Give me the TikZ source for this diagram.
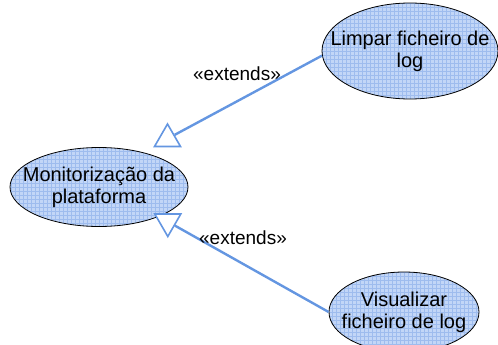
\documentclass[tikz,border=0pt]{standalone}
\usepackage{fontspec}
\setmainfont{Liberation Sans}
\usetikzlibrary{shapes.geometric}
\definecolor{ucfill}{RGB}{194,214,247}
\definecolor{ucgrid}{RGB}{158,188,238}
\definecolor{extblue}{RGB}{100,150,225}

\begin{document}
\begin{tikzpicture}[
    x=1pt, y=-1pt,
    uctext/.style ={align=center, font=\fontsize{20}{22}\selectfont},
    uc/.style ={
        ellipse,
        draw=black,
        line width=0.8pt,
        fill=ucfill,
        inner sep=0pt,
        label={[uctext]center:{#1}},
        path picture={\draw[ucgrid, line width=0.4pt, step=4pt] (path picture bounding box.south west) grid (path picture bounding box.north east);}
    },
    headtri/.style ={
        regular polygon,
        regular polygon sides=3,
        draw=extblue,
        fill=white,
        line width=1.6pt,
        minimum size=30pt,
        inner sep=0pt
    },
    link/.style ={draw=extblue, line width=2.4pt},
    lbl/.style ={font=\fontsize{19}{22}\selectfont}
    ]
    \useasboundingbox (0,0) rectangle (498,345);

    \node[uc={Monitorização da\\plataforma}, minimum width=178pt, minimum height=79pt] (monitor) at (99,187) {};
    \node[uc={Limpar ficheiro de\\log}, minimum width=176pt, minimum height=96pt] (limpar) at (410,51) {};
    \node[uc={Visualizar\\ficheiro de log}, minimum width=150pt, minimum height=80pt] (visualizar) at (404,312) {};

    \node[headtri] (ext1) at (167.5,139) {};
    \node[headtri, rotate=180] (ext2) at (167.8,221.5) {};

    \draw[link] (limpar.183) -- (ext1.side 3);
    \draw[link] (visualizar.west) -- (ext2.side 1);

    \node[lbl] (lbl1) at (237,74) {«extends»};
    \node[lbl] (lbl2) at (243,238) {«extends»};

\end{tikzpicture}
\end{document}
